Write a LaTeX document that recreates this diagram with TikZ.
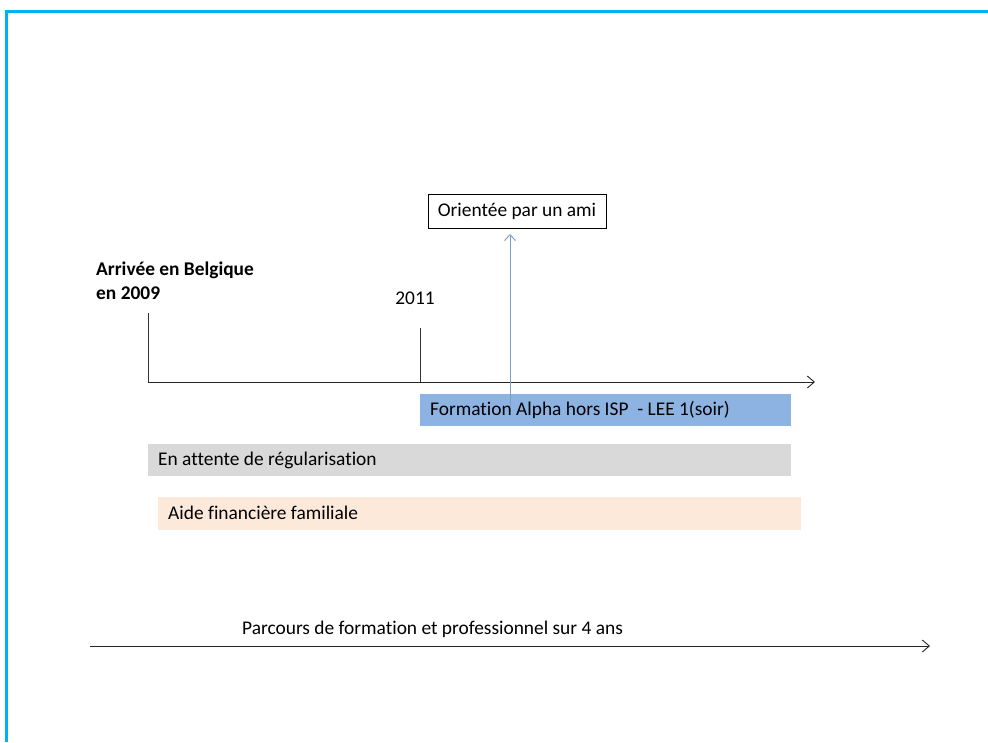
\documentclass[tikz,border=0pt]{standalone}
\usepackage{fontspec}
\setmainfont{Carlito}[Ligatures={NoCommon}]
\usetikzlibrary{arrows.meta}
\definecolor{framecyan}{HTML}{00B0F0}
\definecolor{barblue}{HTML}{8DB3E2}
\definecolor{bargrey}{HTML}{D9D9D9}
\definecolor{barpeach}{HTML}{FDE9D9}
\definecolor{linkblue}{HTML}{7A9CC6}
\tikzset{
  px/.style={x=1pt,y=-1pt},
  txt/.style={font=\fontsize{19.4}{23}\selectfont, inner sep=0pt},
  bartext/.style={txt, anchor=west},
  tick/.style={draw=black!80, line width=1pt},
  axis/.style={draw=black!85, line width=1pt, -{Straight Barb[length=7pt,width=12pt,line width=0.9pt]}},
}
\begin{document}
\begin{tikzpicture}[px]
  \useasboundingbox (0,0) rectangle (988,742);
  \fill[white] (0,0) rectangle (988,742);
  % open frame
  \draw[framecyan, line width=3pt] (6,742) -- (6,11) -- (988,11);

  % bars
  \fill[barblue]  (420,394) rectangle (791,426);
  \fill[bargrey]  (148,444) rectangle (791,476);
  \fill[barpeach] (158,497) rectangle (801,530);
  \node[bartext] (formation) at (430,410) {Formation Alpha hors ISP\ \ - LEE 1(soir)};
  \node[bartext] (attente) at (158,460) {En attente de régularisation};
  \node[bartext] (aide) at (168,513) {Aide financière familiale};

  % timeline
  \coordinate (t0) at (148,382);
  \coordinate (tend) at (815,382);
  \draw[axis] (t0) -- (tend);
  \coordinate (tick0) at (148,313);
  \coordinate (tick1top) at (420,328);
  \coordinate (tick1) at (420,382);
  \draw[tick] (tick0) -- (t0);
  \draw[tick] (tick1top) -- (tick1);

  \node[txt, font=\fontsize{19.4}{23.5}\selectfont\bfseries, align=left, anchor=north west] (arrivee) at (96,262) {Arrivée en Belgique\\en 2009};
  \node[txt] (y2011) at (415,298) {2011};

  % note box
  \node[txt, draw=black, line width=0.9pt, minimum width=178pt, minimum height=34pt] (ami) at (517,211) {Orientée par un ami};
  \coordinate (src) at (510,408);
  \draw[linkblue, line width=1pt, -{Straight Barb[length=6pt,width=11pt,line width=0.9pt]}] (src) -- (510,234);

  % bottom arrow
  \node[bartext] (parcours) at (242,629) {Parcours de formation et professionnel sur 4 ans};
  \coordinate (b0) at (90,646);
  \coordinate (b1) at (930,646);
  \draw[axis] (b0) -- (b1);
\end{tikzpicture}
\end{document}
